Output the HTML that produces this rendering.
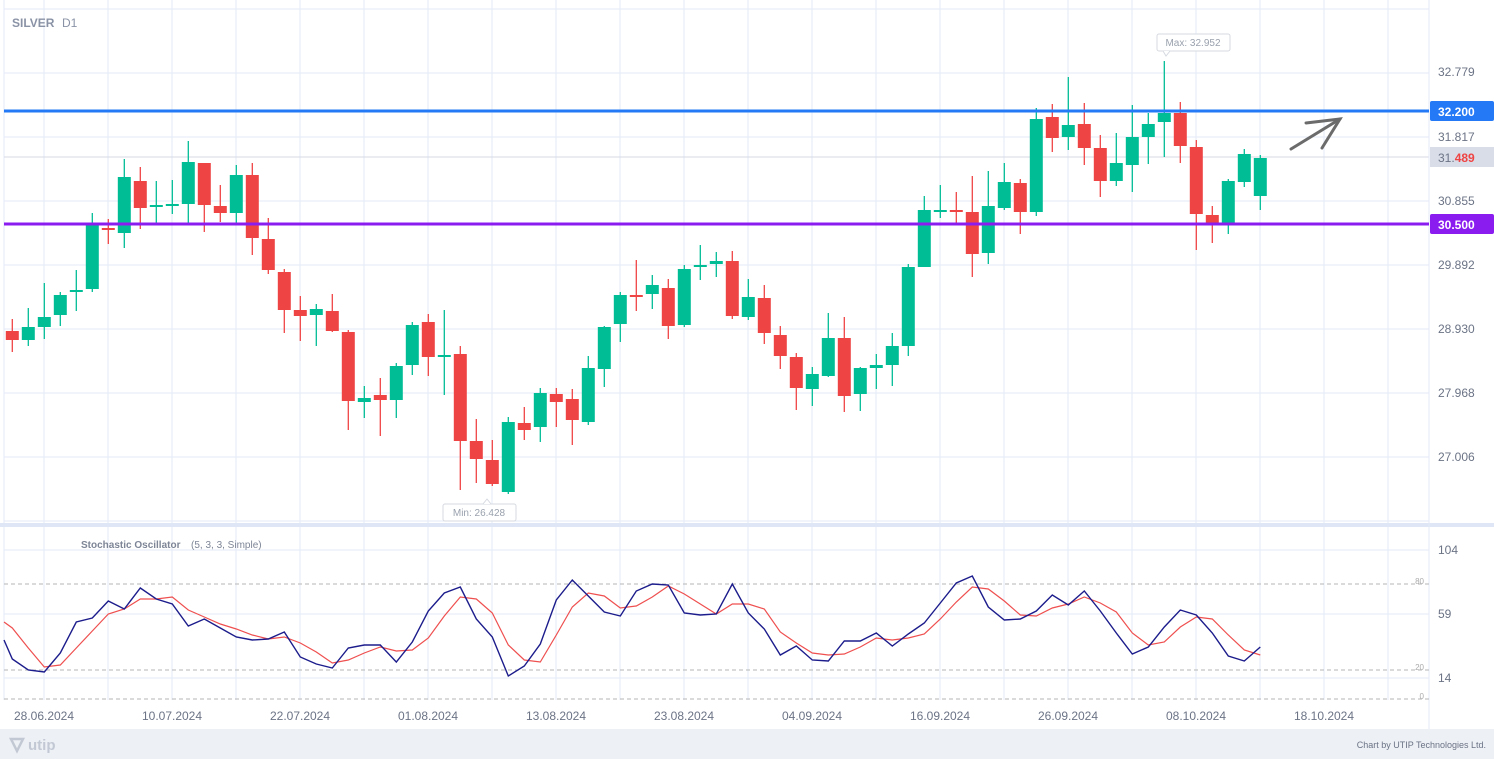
<!DOCTYPE html>
<html><head><meta charset="utf-8"><style>
html,body{margin:0;padding:0;background:#fff;}
body{width:1494px;height:759px;overflow:hidden;font-family:"Liberation Sans",Arial,sans-serif;}
</style></head><body>
<svg id="s" width="1494" height="759" xmlns="http://www.w3.org/2000/svg" font-family="Liberation Sans, Arial, sans-serif"></svg>
<script>
const S=document.getElementById('s');let h='';
// footer
h+='<rect x="0" y="729" width="1494" height="30" fill="#edf0f5"/>';
// vertical grid
for(let x=44;x<1429;x+=64){h+=`<line x1="${x}" y1="0" x2="${x}" y2="700" stroke="#e3eaf7" stroke-width="1"/>`;}
h+='<line x1="4" y1="0" x2="4" y2="700" stroke="#e3eaf7"/>';
// horizontal grid main
for(let y=9;y<=521;y+=64){h+=`<line x1="4" y1="${y}" x2="1429" y2="${y}" stroke="#e3eaf7"/>`;}
h+='<line x1="4" y1="157" x2="1429" y2="157" stroke="#d6dae6"/>';
// separator
h+='<rect x="0" y="523" width="1494" height="4" fill="#dfe7f6"/>';
h+='<line x1="1429" y1="0" x2="1429" y2="729" stroke="#e3eaf7"/>';
// stoch grid
[550,614,678].forEach(y=>h+=`<line x1="4" y1="${y}" x2="1429" y2="${y}" stroke="#e3eaf7"/>`);
[584,670,699].forEach(y=>h+=`<line x1="4" y1="${y}" x2="1429" y2="${y}" stroke="#b5b5b5" stroke-dasharray="4,3"/>`);
// candles: [top, bottom, high, low, green?]
const C=[[331,340,319,352,0],[327,340,308,346,1],[317,327,283,339,1],[295,315,292,326,1],[290,292,270,311,1],[225,289,213,292,1],[228,229,219,244,0],[177,233,159,248,1],[181,208,167,229,0],[205,207,181,223,1],[204,206,180,214,1],[162,204,141,223,1],[163,205,163,232,0],[206,213,185,222,0],[175,213,165,223,1],[175,238,163,255,0],[239,270,218,274,0],[272,310,269,333,0],[310,316,296,341,0],[309,315,304,346,1],[311,331,294,332,0],[332,401,330,430,0],[398,402,386,418,1],[395,400,378,436,0],[366,400,363,418,1],[325,365,322,375,1],[322,357,314,376,0],[355,356,310,395,1],[354,441,346,490,0],[441,459,419,483,0],[460,484,440,486,0],[422,492,417,494,1],[423,430,407,440,0],[393,427,388,442,1],[394,402,388,427,0],[399,420,389,445,0],[368,422,356,425,1],[327,369,326,387,1],[295,324,292,342,1],[295,296,260,311,0],[285,294,275,309,1],[288,326,279,339,0],[269,325,265,327,1],[265,267,245,280,1],[261,264,252,277,1],[261,316,251,319,0],[297,317,279,320,1],[298,333,285,344,0],[335,356,326,369,0],[357,388,353,410,0],[374,389,367,406,1],[338,376,313,377,1],[338,396,317,412,0],[368,394,367,411,1],[365,368,354,389,1],[346,365,333,386,1],[267,346,264,356,1],[210,267,196,267,1],[210,211,185,218,1],[210,211,192,223,0],[212,254,176,277,0],[206,253,171,264,1],[182,208,163,210,1],[183,212,179,234,0],[119,212,108,216,1],[117,138,104,152,0],[125,137,77,150,1],[124,148,103,165,0],[148,181,135,197,0],[163,181,133,186,1],[137,165,105,192,1],[124,137,113,164,1],[113,122,61,157,1],[113,146,102,163,0],[147,214,140,250,0],[215,223,206,243,0],[181,223,179,234,1],[154,182,149,187,1],[158,196,155,210,1]];
C.forEach((c,i)=>{const x=12.3+16*i;const col=c[4]?'#00bd96':'#ef4444';let t=c[0],b=c[1];if(b-t<2){b=t+2;}
h+=`<line x1="${x}" y1="${c[2]}" x2="${x}" y2="${c[3]}" stroke="${col}" stroke-width="1.3"/>`;
h+=`<rect x="${x-6.5}" y="${t}" width="13" height="${b-t}" fill="${col}"/>`;});
// horizontal levels
h+='<rect x="4" y="109.5" width="1425" height="3" fill="#2379f6"/>';
h+='<rect x="4" y="222.5" width="1425" height="3" fill="#8b1cf0"/>';
// stochastic
const B=[640,659,670,672,653,622,618,601,609,588,599,604,626,619,628,637,640,639,632,657,664,668,648,645,645,662,642,611,593,587,619,637,676,666,644,600,580,596,612,616,591,584,585,613,615,614,584,613,629,655,646,660,661,641,641,633,646,634,623,603,583,576,607,620,619,611,595,605,591,611,633,654,647,627,610,615,633,656,661,647];
const R=[622,628,648,667,665,648,631,614,609,599,599,597,610,617,624,629,635,639,637,643,652,663,660,653,647,651,650,638,616,597,599,613,645,660,662,635,607,593,596,608,606,597,586,594,604,614,604,604,609,632,643,653,655,654,647,638,640,638,634,619,602,587,589,601,615,616,608,604,597,603,612,633,645,642,627,617,619,635,650,655];
const pts=a=>a.map((y,j)=>`${j==0?4:12.3+16*(j-1)},${y}`).join(' ');
h+=`<polyline points="${pts(R)}" fill="none" stroke="#ef4f4f" stroke-width="1.2"/>`;
h+=`<polyline points="${pts(B)}" fill="none" stroke="#1c1c8c" stroke-width="1.4"/>`;
// texts
h+='<text x="12" y="27" font-size="12" font-weight="bold" fill="#8a93a6">SILVER</text><text x="62" y="27" font-size="12" fill="#8a93a6">D1</text>';
h+='<text x="81" y="548" font-size="10" font-weight="bold" fill="#7d8596">Stochastic Oscillator</text><text x="191" y="548" font-size="10" fill="#7d8596">(5, 3, 3, Simple)</text>';
// price axis labels
[[32.779,72],[31.817,137],[30.855,201],[29.892,265],[28.930,329],[27.968,393],[27.006,457]].forEach(p=>h+=`<text x="1438" y="${p[1]+4}" font-size="12" fill="#6b7385">${p[0].toFixed(3)}</text>`);
h+='<rect x="1430" y="101" width="64" height="20" rx="2" fill="#2379f6"/><text x="1438" y="116" font-size="12" font-weight="bold" fill="#fff">32.200</text>';
h+='<rect x="1430" y="214" width="64" height="20" rx="2" fill="#8b1cf0"/><text x="1438" y="229" font-size="12" font-weight="bold" fill="#fff">30.500</text>';
h+='<rect x="1430" y="147" width="64" height="20" fill="#d9dde8"/><text x="1438" y="162" font-size="12" fill="#6b7385">31.<tspan fill="#ef4444" font-weight="bold">489</tspan></text>';
[[104,549],[59,613],[14,677]].forEach(p=>h+=`<text x="1438" y="${p[1]+5}" font-size="12" fill="#6b7385">${p[0]}</text>`);
[[80,581],['20',667],['0',696]].forEach(p=>h+=`<text x="1424" y="${p[1]+3}" font-size="8" text-anchor="end" fill="#aaa">${p[0]}</text>`);
// dates
['28.06.2024','10.07.2024','22.07.2024','01.08.2024','13.08.2024','23.08.2024','04.09.2024','16.09.2024','26.09.2024','08.10.2024','18.10.2024'].forEach((d,k)=>h+=`<text x="${44+128*k}" y="720" font-size="12" text-anchor="middle" fill="#6b7385">${d}</text>`);
// max/min
h+='<rect x="1157" y="34" width="73" height="17" rx="2" fill="#fff" stroke="#d5d9e0"/><path d="M1163 51 L1166 56 L1170 51" fill="#fff" stroke="#d5d9e0"/><text x="1193" y="46" font-size="10" text-anchor="middle" fill="#9aa1ad">Max: 32.952</text>';
h+='<rect x="443" y="504" width="73" height="17" rx="2" fill="#fff" stroke="#d5d9e0"/><path d="M483 504 L487 499 L491 504" fill="#fff" stroke="#d5d9e0"/><text x="479" y="516" font-size="10" text-anchor="middle" fill="#9aa1ad">Min: 26.428</text>';
// arrow
h+='<g stroke="#6b6b6b" stroke-width="3" fill="none" stroke-linecap="round"><line x1="1291" y1="149" x2="1340" y2="119"/><polyline points="1306,123 1340,119 1322,148"/></g>';
// footer
h+='<path d="M11 739 L23 739 L17 751 Z" fill="none" stroke="#c3c9d4" stroke-width="2.5"/><text x="28" y="750" font-size="15" font-weight="bold" fill="#c3c9d4">utip</text>';
h+='<text x="1486" y="748" font-size="9" text-anchor="end" fill="#6b7385">Chart by UTIP Technologies Ltd.</text>';
S.innerHTML=h;
</script>
</body></html>
